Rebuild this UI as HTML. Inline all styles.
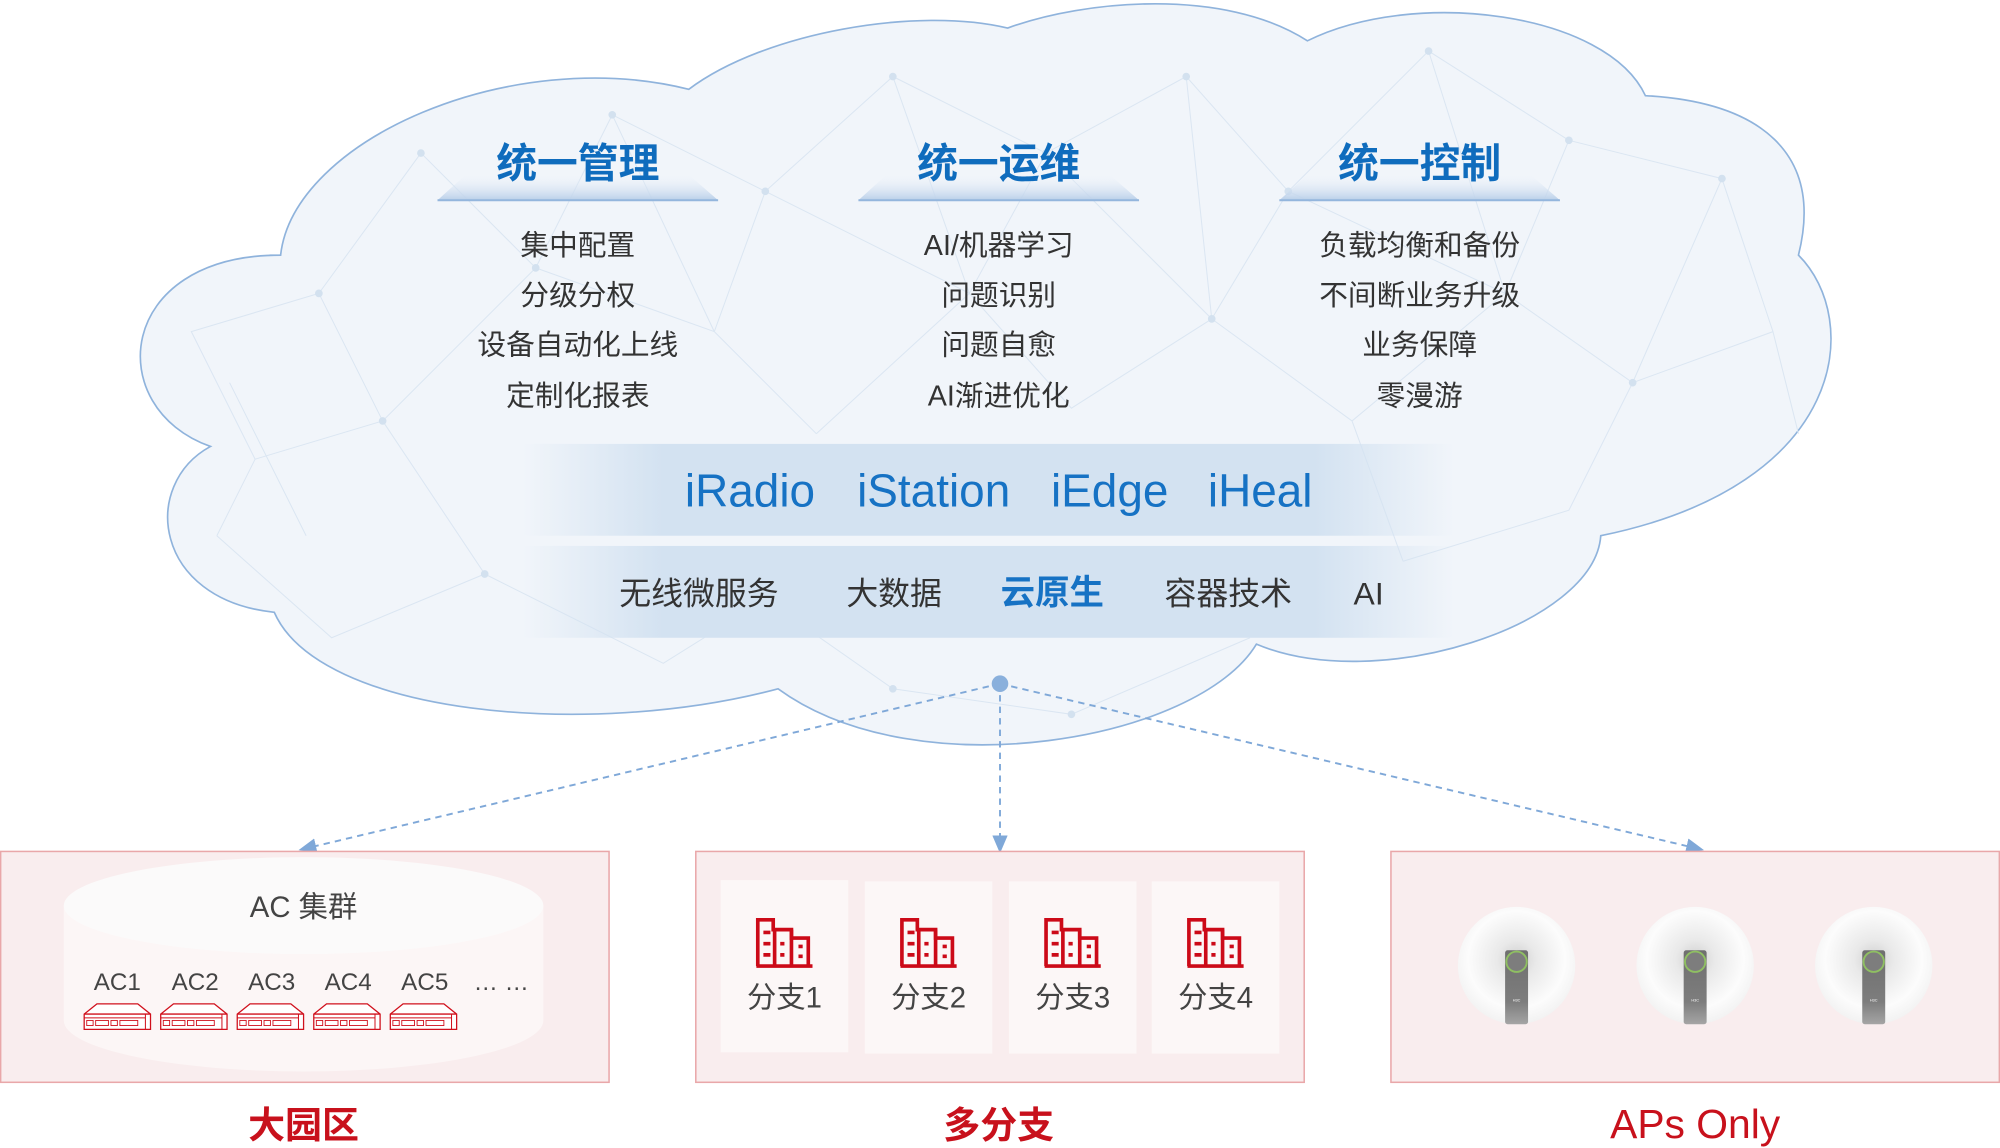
<!DOCTYPE html>
<html><head><meta charset="utf-8"><style>
html,body{margin:0;padding:0;background:#fff;}
svg{display:block}
text{font-family:"Liberation Sans","Noto Sans CJK SC",sans-serif;}
</style></head><body>
<svg width="2000" height="1148" viewBox="0 0 1568 900" preserveAspectRatio="none" xmlns="http://www.w3.org/2000/svg">
<defs>
<linearGradient id="band" x1="0" x2="1" y1="0" y2="0">
<stop offset="0" stop-color="#d3e2f1" stop-opacity="0"/>
<stop offset="0.15" stop-color="#d3e2f1" stop-opacity="1"/>
<stop offset="0.85" stop-color="#d3e2f1" stop-opacity="1"/>
<stop offset="1" stop-color="#d3e2f1" stop-opacity="0"/>
</linearGradient>
<linearGradient id="trap" x1="0" x2="0" y1="0" y2="1">
<stop offset="0" stop-color="#eef3fa" stop-opacity="0"/>
<stop offset="1" stop-color="#b9cfe9"/>
</linearGradient>
<radialGradient id="ap" cx="0.5" cy="0.45" r="0.55">
<stop offset="0" stop-color="#cfcfcf"/>
<stop offset="0.3" stop-color="#e9e9e9"/>
<stop offset="0.75" stop-color="#fcfcfc"/>
<stop offset="1" stop-color="#f2f2f2"/>
</radialGradient>
<linearGradient id="bar" x1="0" x2="0" y1="0" y2="1">
<stop offset="0" stop-color="#6f6f6f"/><stop offset="0.7" stop-color="#7d7d7d"/><stop offset="1" stop-color="#a5a5a5"/>
</linearGradient>
<marker id="arr" markerWidth="14" markerHeight="12" refX="12" refY="6" orient="auto" markerUnits="userSpaceOnUse">
<path d="M0,0 L14,6 L0,12 z" fill="#7fa8d8"/>
</marker>
<g id="srv">
<path d="M0,8 L10,0 L42,0 L52,8 L52,20 L0,20 z" fill="#fff" stroke="#d0101c" stroke-width="1"/>
<line x1="0" y1="8" x2="52" y2="8" stroke="#d0101c" stroke-width="1"/>
<line x1="0" y1="11" x2="48" y2="11" stroke="#d0101c" stroke-width="0.8"/>
<rect x="2" y="13" width="5" height="4" fill="none" stroke="#d0101c" stroke-width="0.7"/>
<rect x="9" y="13" width="10" height="4" fill="none" stroke="#d0101c" stroke-width="0.7"/>
<rect x="21" y="13" width="5" height="4" fill="none" stroke="#d0101c" stroke-width="0.7"/>
<rect x="28" y="13" width="14" height="4" fill="none" stroke="#d0101c" stroke-width="0.7"/>
<line x1="48" y1="8" x2="48" y2="20" stroke="#d0101c" stroke-width="0.8"/>
</g>
<g id="bld" fill="none" stroke="#cc0a18" stroke-width="2.6">
<path d="M1,34 L1,1 L12,1 L12,8 L25,8 L25,14 L37,14 L37,34"/>
<line x1="0" y1="34" x2="40" y2="34"/>
<line x1="13" y1="8" x2="13" y2="34"/><line x1="25" y1="8" x2="25" y2="34"/>
<path d="M5,10h5 M5,18h5 M5,26h5 M17,18h3 M17,26h3 M30,20h3 M30,27h3"/>
</g>
<g id="apd">
<ellipse cx="0" cy="0" rx="46" ry="46" fill="url(#ap)"/>
<rect x="-9" y="-12" width="18" height="58" rx="2" fill="url(#bar)"/>
<circle cx="0" cy="-3" r="8" fill="#7d7d7d" stroke="#8fbf62" stroke-width="1.5"/>
<text x="0" y="28" font-size="3" fill="#fff" text-anchor="middle">H3C</text>
</g>
</defs>

<!-- cloud -->
<path d="M220,200 C230,110 400,35 540,70 C600,25 720,5 790,22 C850,0 960,-10 1025,32 C1110,-10 1260,10 1290,75 C1380,80 1430,120 1410,200 C1460,250 1450,380 1255,420 C1250,490 1080,545 985,505 C940,580 720,620 610,540 C460,580 250,560 215,480 C120,470 110,380 165,350 C80,320 90,200 220,200 Z" fill="#f1f5fa" stroke="#8fb3dc" stroke-width="1.3"/>

<!-- mesh -->
<g stroke="#dbe6f2" stroke-width="0.8" fill="none">
<path d="M150,260 L250,230 L300,330 L200,360 Z M250,230 L330,120 L420,210 L300,330 M420,210 L480,90 L600,150 L560,260 L420,210 M600,150 L700,60 L820,120 L760,230 L600,150 M820,120 L930,60 L1010,150 L950,250 L820,120 M1010,150 L1120,40 L1230,110 L1180,230 L1010,150 M1230,110 L1350,140 L1390,260 L1280,300 L1180,230 M1280,300 L1230,400 L1100,440 M300,330 L380,450 L260,500 L170,420 M380,450 L520,520 L600,470 M760,230 L840,320 M950,250 L1060,330 M560,260 L640,340 M180,300 L240,420 M330,120 L250,230 M480,90 L560,260 M700,60 L760,230 M930,60 L950,250 M1120,40 L1180,230 M1350,140 L1280,300 M640,340 L760,230 L840,320 L950,250 M1060,330 L1180,230 M200,360 L170,420 M260,500 L380,450 M600,470 L700,540 L840,560 L980,500 M1100,440 L1060,330 M1390,260 L1410,340"/>
</g>
<g fill="#d3e1ef">
<circle cx="250" cy="230" r="3"/><circle cx="300" cy="330" r="3"/><circle cx="420" cy="210" r="3"/><circle cx="600" cy="150" r="3"/><circle cx="820" cy="120" r="3"/><circle cx="1010" cy="150" r="3"/><circle cx="1230" cy="110" r="3"/><circle cx="1280" cy="300" r="3"/><circle cx="380" cy="450" r="3"/><circle cx="950" cy="250" r="3"/><circle cx="700" cy="60" r="3"/><circle cx="930" cy="60" r="3"/><circle cx="1120" cy="40" r="3"/><circle cx="480" cy="90" r="3"/><circle cx="330" cy="120" r="3"/><circle cx="1350" cy="140" r="3"/><circle cx="700" cy="540" r="3"/><circle cx="840" cy="560" r="3"/>
</g>

<!-- bands -->
<rect x="410" y="348" width="730" height="72" fill="url(#band)"/>
<rect x="410" y="428" width="730" height="72" fill="url(#band)"/>

<!-- headers -->
<g font-size="32" font-weight="bold" fill="#0f6cbd" text-anchor="middle">
<path d="M365,137 L540,137 L563,157 L343,157 Z" fill="url(#trap)"/>
<line x1="343" y1="157" x2="563" y2="157" stroke="#94b6dd" stroke-width="1.5"/>
<path d="M695,137 L870,137 L893,157 L673,157 Z" fill="url(#trap)"/>
<line x1="673" y1="157" x2="893" y2="157" stroke="#94b6dd" stroke-width="1.5"/>
<path d="M1025,137 L1200,137 L1223,157 L1003,157 Z" fill="url(#trap)"/>
<line x1="1003" y1="157" x2="1223" y2="157" stroke="#94b6dd" stroke-width="1.5"/>
<text x="453" y="139">统一管理</text>
<text x="783" y="139">统一运维</text>
<text x="1113" y="139">统一控制</text>
</g>
<g font-size="22.5" fill="#333" text-anchor="middle">
<text x="453" y="200">集中配置</text><text x="453" y="239">分级分权</text><text x="453" y="278">设备自动化上线</text><text x="453" y="318">定制化报表</text>
<text x="783" y="200">AI/机器学习</text><text x="783" y="239">问题识别</text><text x="783" y="278">问题自愈</text><text x="783" y="318">AI渐进优化</text>
<text x="1113" y="200">负载均衡和备份</text><text x="1113" y="239">不间断业务升级</text><text x="1113" y="278">业务保障</text><text x="1113" y="318">零漫游</text>
</g>
<g font-size="36" fill="#1672c4" text-anchor="middle">
<text x="588" y="397">iRadio</text><text x="732" y="397">iStation</text><text x="870" y="397">iEdge</text><text x="988" y="397">iHeal</text>
</g>
<g font-size="25" fill="#333" text-anchor="middle">
<text x="548" y="474">无线微服务</text><text x="701" y="474">大数据</text>
<text x="825" y="474" font-weight="bold" fill="#1672c4" font-size="27">云原生</text>
<text x="963" y="474">容器技术</text><text x="1073" y="474">AI</text>
</g>

<!-- connectors -->
<g stroke="#7fa8d8" stroke-width="1.5" stroke-dasharray="5,4" fill="none">
<line x1="784" y1="536" x2="236" y2="666" marker-end="url(#arr)"/>
<line x1="784" y1="536" x2="784" y2="667" marker-end="url(#arr)"/>
<line x1="784" y1="536" x2="1334" y2="666" marker-end="url(#arr)"/>
</g>
<circle cx="784" cy="536" r="6.5" fill="#8ab0dc"/>

<!-- boxes -->
<g fill="#f9edee" stroke="#e9a7a9" stroke-width="1.2">
<rect x="0.5" y="667.5" width="477" height="181"/>
<rect x="545.5" y="667.5" width="477" height="181"/>
<rect x="1090.5" y="667.5" width="477" height="181"/>
</g>

<!-- cylinder -->
<path d="M50,710 L50,800 A188,40 0 0 0 426,800 L426,710 Z" fill="#fcf6f6"/>
<ellipse cx="238" cy="710" rx="188" ry="38" fill="#fbfafa"/>
<text x="238" y="719" font-size="23" fill="#444" text-anchor="middle">AC 集群</text>
<g font-size="19" fill="#444" text-anchor="middle">
<text x="92" y="776">AC1</text><text x="153" y="776">AC2</text><text x="213" y="776">AC3</text><text x="273" y="776">AC4</text><text x="333" y="776">AC5</text><text x="393" y="776">… …</text>
</g>
<use href="#srv" x="66" y="787"/><use href="#srv" x="126" y="787"/><use href="#srv" x="186" y="787"/><use href="#srv" x="246" y="787"/><use href="#srv" x="306" y="787"/>

<!-- branches -->
<g fill="#fcf7f7">
<rect x="565" y="690" width="100" height="135"/><rect x="678" y="691" width="100" height="135"/><rect x="791" y="691" width="100" height="135"/><rect x="903" y="691" width="100" height="135"/>
</g>
<g transform="translate(593,720) scale(1.1)"><use href="#bld"/></g>
<g transform="translate(706,720) scale(1.1)"><use href="#bld"/></g>
<g transform="translate(819,720) scale(1.1)"><use href="#bld"/></g>
<g transform="translate(931,720) scale(1.1)"><use href="#bld"/></g>
<g font-size="23" fill="#444" text-anchor="middle">
<text x="615" y="790">分支1</text><text x="728" y="790">分支2</text><text x="841" y="790">分支3</text><text x="953" y="790">分支4</text>
</g>

<!-- APs -->
<use href="#apd" x="1189" y="757"/><use href="#apd" x="1329" y="757"/><use href="#apd" x="1469" y="757"/>

<!-- labels -->
<g fill="#c8111c" text-anchor="middle">
<text x="238" y="892" font-size="29" font-weight="bold">大园区</text>
<text x="783" y="892" font-size="29" font-weight="bold">多分支</text>
<text x="1329" y="892" font-size="32">APs Only</text>
</g>
</svg>
</body></html>
